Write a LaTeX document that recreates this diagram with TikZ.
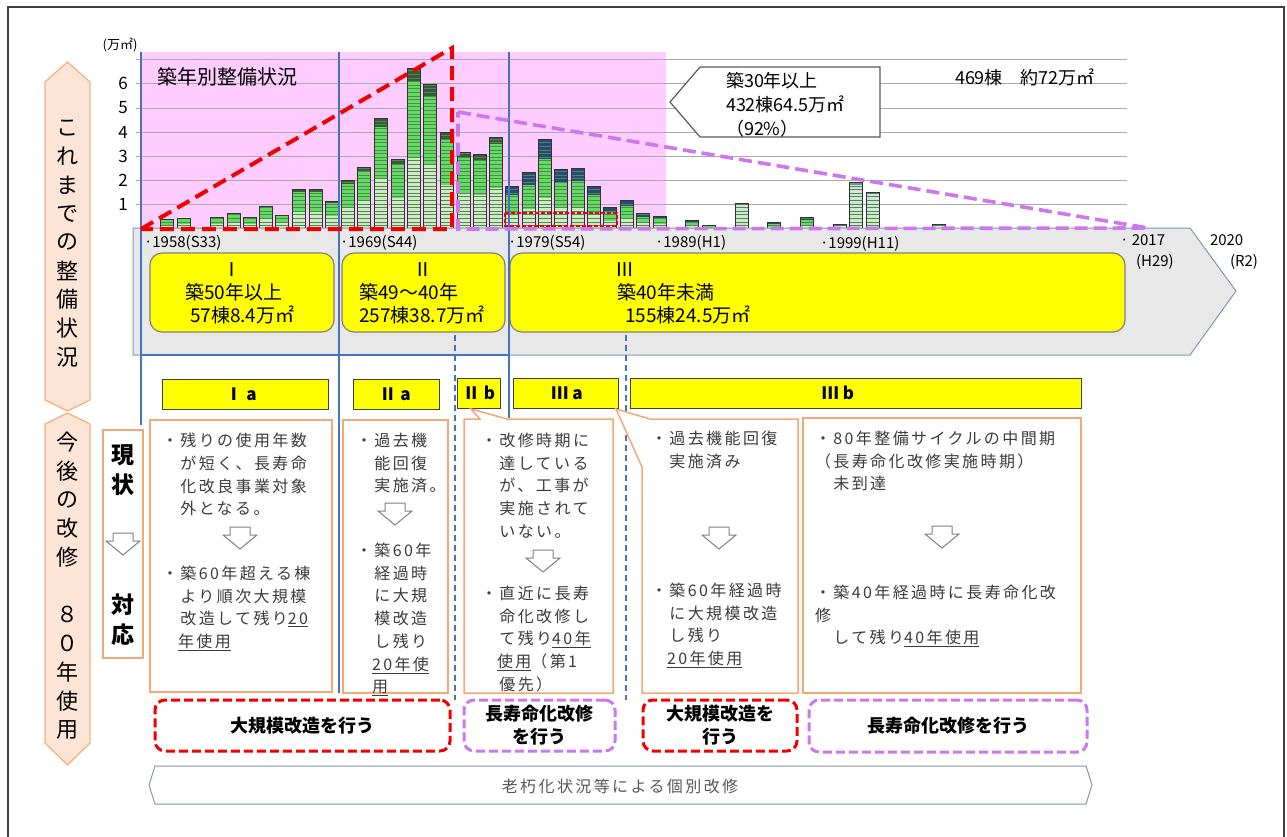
\documentclass[tikz,border=0pt]{standalone}
\usepackage{fontspec}
\setmainfont{Noto Sans CJK JP}
\newfontfamily\boxfont[LetterSpace=15]{Noto Sans CJK JP}
\definecolor{mypink}{RGB}{255,204,255}
\definecolor{myyellow}{RGB}{255,255,0}
\definecolor{myorange}{RGB}{244,168,120}
\definecolor{mypeach}{RGB}{252,228,214}
\definecolor{mypeachline}{RGB}{244,177,131}
\definecolor{myblue}{RGB}{68,114,196}
\definecolor{myred}{RGB}{240,0,0}
\definecolor{mypurple}{RGB}{204,119,238}
\definecolor{gridgray}{RGB}{170,170,170}
\definecolor{bandfill}{RGB}{232,232,232}
\definecolor{bandline}{RGB}{132,151,176}
\definecolor{barlight}{RGB}{200,240,190}
\definecolor{bargreen}{RGB}{90,225,90}
\definecolor{bardark}{RGB}{50,95,50}
\definecolor{barblue}{RGB}{31,78,121}
\definecolor{barpale}{RGB}{200,236,210}
\definecolor{barcap}{RGB}{110,150,140}
\definecolor{barstripe}{RGB}{60,90,60}
\definecolor{txtgray}{RGB}{60,60,60}
\newcommand\onebar[6]{%
  \begin{scope}
    \clip (#1,229) rectangle (#1+13,#2);
    \fill[barlight] (#1,229) rectangle (#1+13,#2);
    \fill[#5] (#1,{#2+#6*(229-#2)}) rectangle (#1+13,#2);
    \fill[#3] (#1,{#2+#4*(229-#2)}) rectangle (#1+13,#2);
    \foreach \k in {1,...,46} \draw[barstripe!80, line width=0.4pt] (#1,229-\k*3.6) -- ++(13,0);
  \end{scope}
  \draw[black!80, line width=0.6pt] (#1,229) rectangle (#1+13,#2);
}
\newcommand\hollowarrow[2]{\draw[arrowline] (#1-10,#2) -- (#1+10,#2) -- (#1+10,#2+8) -- (#1+17,#2+8) -- (#1,#2+22) -- (#1-17,#2+8) -- (#1-10,#2+8) -- cycle;}
\begin{document}
\begin{tikzpicture}[x=1pt,y=-1pt,
  every node/.style={inner sep=0pt,outer sep=0pt},
  gridline/.style={draw=gridgray, line width=0.9pt},
  bluev/.style={draw=myblue, line width=1.8pt},
  bluedash/.style={draw=myblue, line width=1.8pt, dash pattern=on 6pt off 4pt},
  redtri/.style={draw=myred, line width=4pt, dash pattern=on 14pt off 7pt},
  purtri/.style={draw=mypurple, line width=3.6pt, dash pattern=on 13pt off 6pt},
  periodbox/.style={draw=gray, fill=myyellow, line width=1.2pt, rounded corners=12pt},
  labelbox/.style={draw=gray!50!black, fill=myyellow, line width=1pt},
  labeltxt/.style={font=\bfseries\fontsize{17}{20}\selectfont},
  contentbox/.style={draw=myorange, line width=1.5pt, fill=white},
  boxtxt/.style={anchor=north west, align=left, text=txtgray, font=\boxfont\fontsize{16}{22.7}\selectfont},
  redbox/.style={draw=myred, line width=3pt, dash pattern=on 9pt off 4pt, rounded corners=10pt, align=center, font=\bfseries\fontsize{18}{23}\selectfont},
  purbox/.style={draw=mypurple, line width=3pt, dash pattern=on 9pt off 4pt, rounded corners=10pt, align=center, font=\bfseries\fontsize{18}{23}\selectfont},
  arrowline/.style={draw=gray, fill=white, line width=1pt},
  vtxt/.style={font=\fontsize{22}{22}\selectfont},
  gtxt/.style={font=\bfseries\fontsize{23}{23}\selectfont},
  axlab/.style={font=\fontsize{17}{17}\selectfont},
  yrlab/.style={anchor=west, font=\fontsize{15}{15}\selectfont},
  pertxt/.style={font=\fontsize{19}{23}\selectfont},
  peach/.style={draw=mypeachline, fill=mypeach, line width=1.3pt}
]
\useasboundingbox (0,0) rectangle (1287,836);
\fill[white] (0,0) rectangle (1287,836);
\draw[black!75, line width=1.2pt] (8,7) rectangle (1284,850);

% ---------------- chart
\fill[mypink] (141,52) rectangle (666,229);
\foreach \k in {0,...,7} \draw[gridline] (136,{229-24.2*\k}) -- (1127,{229-24.2*\k});
\foreach \k in {1,...,6} \node[axlab] (ax\k) at (123,{229-24.2*\k}) {\k};
\node[font=\fontsize{13}{13}\selectfont] (unit) at (120,45) {(万㎡)};
\node[anchor=west, font=\fontsize{20}{20}\selectfont] (title) at (157,77) {築年別整備状況};

\foreach \x/\t in {160/219,177/218,210/217,227/213,243/217,259/206,275/215,292/189,309/189,325/201,341/180,357/167,374/118,391/159,407/68,423/84,440/132,457/152,473/154,489/137}
  {\onebar{\x}{\t}{bardark}{0.08}{bargreen}{0.55}}
\foreach \x/\t in {505/186,522/172,538/139,554/169,571/168,587/186,603/207,620/200,636/213,653/216,685/220,702/225,767/222,800/217}
  {\onebar{\x}{\t}{barblue}{0.22}{bargreen}{0.65}}
\foreach \x/\t in {735/203,833/224,849/182,866/192,932/224}
  {\onebar{\x}{\t}{barcap}{0.06}{barpale}{0.6}}

% callout
\draw[draw=gray!70!black, fill=white, line width=1.2pt] (670,102) -- (700,67) -- (880,67) -- (880,137) -- (700,137) -- cycle;
\node[anchor=north west, align=left, font=\fontsize{18}{24}\selectfont] (callout) at (726,72) {築30年以上\\432棟64.5万㎡\\（92\%）};
\node[anchor=west, font=\fontsize{18}{18}\selectfont] (total) at (955,77) {469棟　約72万㎡};

% ---------------- band
\draw[draw=bandline, fill=bandfill, line width=1pt] (133,228) -- (1190,228) -- (1236,291) -- (1190,355) -- (133,355) -- cycle;
\node[yrlab] (y1958) at (144,243) {·1958(S33)};
\node[yrlab] (y1969) at (340,243) {·1969(S44)};
\node[yrlab] (y1979) at (508,243) {·1979(S54)};
\node[yrlab] (y1989) at (655,243) {·1989(H1)};
\node[yrlab] (y1999) at (820,244) {·1999(H11)};
\node[yrlab] (y2017) at (1120,240) {· 2017};
\node[yrlab] (h29) at (1136,262) {(H29)};
\node[yrlab] (y2020) at (1210,240) {2020};
\node[yrlab] (r2) at (1230,262) {(R2)};

\draw[periodbox] (150,253) rectangle (334,332);
\draw[periodbox] (342,253) rectangle (505,332);
\draw[periodbox] (510,253) rectangle (1125,332);
\node[pertxt] (p1) at (232,270) {Ⅰ};
\node[pertxt, anchor=north west, align=left] (p1t) at (185,283) {築50年以上\\\hspace{5pt}57棟8.4万㎡};
\node[pertxt] (p2) at (423,270) {Ⅱ};
\node[pertxt, anchor=north west, align=left] (p2t) at (359,283) {築49～40年\\257棟38.7万㎡};
\node[pertxt] (p3) at (625,270) {Ⅲ};
\node[pertxt, anchor=north west, align=left] (p3t) at (617,283) {築40年未満\\\hspace{8pt}155棟24.5万㎡};

% blue lines
\draw[bluev] (141,52) -- (141,425);
\draw[bluev] (339,52) -- (339,693);
\draw[bluev] (509,52) -- (509,418);
\draw[bluev] (141,355) -- (509,355);
\draw[bluedash] (455,335) -- (455,700);
\draw[bluedash] (626,335) -- (626,700);

% triangles
\draw[redtri] (141,229) -- (452,48) -- (452,229) -- cycle;
\draw[purtri] (458,112) -- (1148,228) -- (458,229) -- cycle;
\draw[myred, line width=1.3pt, dash pattern=on 4pt off 2pt] (505,213) rectangle (617,226);

% ---------------- left labels
\draw[peach] (67.5,62) -- (90,82) -- (90,400) -- (67.5,411) -- (45,400) -- (45,82) -- cycle;
\draw[peach] (67.5,413) -- (90,424) -- (90,743) -- (67.5,765) -- (45,743) -- (45,424) -- cycle;
\foreach \c [count=\i from 0] in {こ,れ,ま,で,の,整,備,状,況} \node[vtxt] (up\i) at (67.5,128+\i*28.6) {\c};
\foreach \c/\i in {今/0,後/1,の/2,改/3,修/4,８/6,０/7,年/8,使/9,用/10} \node[vtxt] (lo\i) at (67.5,442+\i*28.8) {\c};

\draw[contentbox] (103,430) rectangle (143,658);
\node[gtxt] (g1) at (123,455) {現};
\node[gtxt] (g2) at (123,485) {状};
\hollowarrow{123}{533}
\node[gtxt] (g3) at (123,605) {対};
\node[gtxt] (g4) at (123,635) {応};

% ---------------- label boxes
\node[labelbox, minimum width=166pt, minimum height=30pt] (la1) at (245,394) {};
\node[labeltxt] (la1t) at (241,394) {Ⅰ a};
\node[labelbox, minimum width=86pt, minimum height=30pt] (la2) at (396,394) {};
\node[labeltxt] (la2t) at (395,394) {Ⅱ a};
\node[labelbox, minimum width=43pt, minimum height=30pt] (lb2) at (478.5,393) {};
\node[labeltxt] (lb2t) at (479,393) {Ⅱ b};
\node[labelbox, minimum width=105pt, minimum height=30pt] (la3) at (565.5,393) {};
\node[labeltxt] (la3t) at (567,393) {Ⅲ a};
\node[labelbox, minimum width=451pt, minimum height=30pt] (lb3) at (855.5,393) {};
\node[labeltxt] (lb3t) at (838,393) {Ⅲ b};

% ---------------- content boxes
\draw[contentbox] (150,420) rectangle (332,692);
\draw[contentbox] (343,420) rectangle (448,693);
\draw[contentbox] (464,419) -- (480,419) -- (471,409) -- (507,419) -- (613,419) -- (613,693) -- (464,693) -- cycle;
\draw[contentbox] (616,409) -- (650,419) -- (798,419) -- (798,693) -- (642,693) -- (642,467) -- cycle;
\draw[contentbox] (803,418) rectangle (1081,693);

\node[boxtxt] (c1a) at (162,433) {・残りの使用年数\\　が短く、長寿命\\　化改良事業対象\\　外となる。};
\hollowarrow{240}{527}
\node[boxtxt] (c1b) at (162,566) {・築60年超える棟\\　より順次大規模\\　改造して残り\underline{20}\\　\underline{年使用}};

\node[boxtxt] (c2a) at (356,433) {・過去機\\　能回復\\　実施済。};
\hollowarrow{395}{503}
\node[boxtxt] (c2b) at (356,543) {・築60年\\　経過時\\　に大規\\　模改造\\　し残り\\　\underline{20年使}\\　\underline{用}};

\node[boxtxt] (c3a) at (481,433) {・改修時期に\\　達している\\　が、工事が\\　実施されて\\　いない。};
\hollowarrow{543}{550}
\node[boxtxt] (c3b) at (481,586) {・直近に長寿\\　命化改修し\\　て残り\underline{40年}\\　\underline{使用}（第1\\　優先）};

\node[boxtxt] (c4a) at (651,431) {・過去機能回復\\　実施済み};
\hollowarrow{719}{527}
\node[boxtxt] (c4b) at (651,583) {・築60年経過時\\　に大規模改造\\　し残り\\　\underline{20年使用}};

\node[boxtxt] (c5a) at (815,431) {・80年整備サイクルの中間期\\（長寿命化改修実施時期）\\　未到達};
\hollowarrow{942}{526}
\node[boxtxt] (c5b) at (815,585) {・築40年経過時に長寿命化改\\修\\　して残り\underline{40年使用}};

% ---------------- action boxes
\node[redbox, minimum width=295pt, minimum height=51pt] (act1) at (302.5,725.5) {大規模改造を行う};
\node[purbox, minimum width=151pt, minimum height=51pt] (act2) at (539.5,725.5) {長寿命化改修\\を行う};
\node[redbox, minimum width=154pt, minimum height=51pt] (act3) at (720,725.5) {大規模改造を\\行う};
\node[purbox, minimum width=278pt, minimum height=52pt] (act4) at (948,726) {長寿命化改修を行う};

% ---------------- bottom bar
\draw[draw=bandline, fill=white, line width=1pt] (149,785) -- (155,766) -- (1086,766) -- (1092,785) -- (1086,804) -- (155,804) -- cycle;
\node[text=black!65, font=\boxfont\fontsize{16}{16}\selectfont] (indiv) at (620,786) {老朽化状況等による個別改修};
\end{tikzpicture}
\end{document}
